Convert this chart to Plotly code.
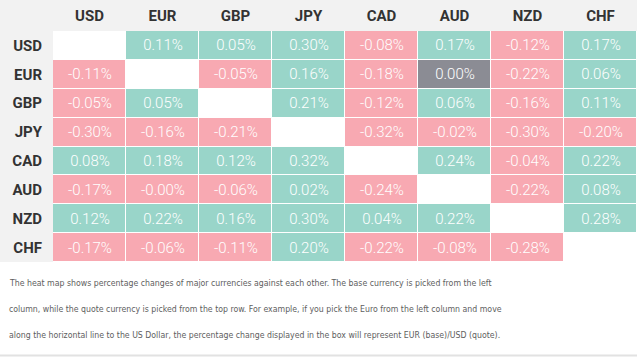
import plotly.graph_objects as go

currencies = ["USD", "EUR", "GBP", "JPY", "CAD", "AUD", "NZD", "CHF"]

# rows = base currency, columns = quote currency; None = diagonal
usd = [None, 0.11, 0.05, 0.30, -0.08, 0.17, -0.12, 0.17]
eur = [-0.11, None, -0.05, 0.16, -0.18, 0.00, -0.22, 0.06]
gbp = [-0.05, 0.05, None, 0.21, -0.12, 0.06, -0.16, 0.11]
jpy = [-0.30, -0.16, -0.21, None, -0.32, -0.02, -0.30, -0.20]
cad = [0.08, 0.18, 0.12, 0.32, None, 0.24, -0.04, 0.22]
aud = [-0.17, -0.004, -0.06, 0.02, -0.24, None, -0.22, 0.08]
nzd = [0.12, 0.22, 0.16, 0.30, 0.04, 0.22, None, 0.28]
chf = [-0.17, -0.06, -0.11, 0.20, -0.22, -0.08, -0.28, None]

rows = [usd, eur, gbp, jpy, cad, aud, nzd, chf]

note_lines = [
    "The heat map shows percentage changes of major currencies against each other. The base currency is picked from the left",
    "column, while the quote currency is picked from the top row. For example, if you pick the Euro from the left column and move",
    "along the horizontal line to the US Dollar, the percentage change displayed in the box will represent EUR (base)/USD (quote).",
]

PINK = "#f8a9b2"
GREY = "#8b8c94"
GREEN = "#99d5c9"
BG = "#f2f2f2"


def code(v):
    if v is None:
        return None
    if v > 0:
        return 2
    if v < 0:
        return 0
    return 1


z = [[code(v) for v in r] for r in rows]
text = [["" if v is None else f"{v:.2f}%" for v in r] for r in rows]

fig = go.Figure(
    go.Heatmap(
        z=z,
        x=currencies,
        y=currencies,
        text=text,
        texttemplate="%{text}",
        textfont=dict(family="Roboto", size=15, color="white", weight=300),
        colorscale=[[0, PINK], [0.333, PINK], [0.333, GREY], [0.667, GREY], [0.667, GREEN], [1, GREEN]],
        zmin=0,
        zmax=2,
        showscale=False,
        xgap=1,
        ygap=1,
        hoverinfo="skip",
    )
)

W, H = 637, 357
L, T, B = 53, 31, 95
ph = H - T - B
pw = W - L

shapes = [
    dict(type="rect", xref="paper", yref="paper", x0=-L / pw, x1=1.0, y0=-B / ph, y1=0,
         fillcolor="white", line_width=0, layer="below"),
    dict(type="line", xref="paper", yref="paper", x0=-L / pw, x1=1.0,
         y0=-(B - 1.5) / ph, y1=-(B - 1.5) / ph, line=dict(color="#e2e2e2", width=2)),
]

annotations = []
for i, line in enumerate(note_lines):
    y_px = 283 + i * 25.8
    annotations.append(dict(
        text=line, xref="paper", yref="paper", x=(7 - L) / pw, y=(H - B - y_px) / ph,
        xanchor="left", yanchor="middle", showarrow=False,
        font=dict(family="Liberation Sans Narrow, DejaVu Sans Condensed, Roboto", size=8.7, color="#5e5e5e"),
    ))

fig.update_layout(
    width=W, height=H,
    margin=dict(l=L, r=0, t=T, b=B, pad=0),
    paper_bgcolor=BG,
    plot_bgcolor="white",
    shapes=shapes,
    annotations=annotations,
    xaxis=dict(side="top", showgrid=False, zeroline=False, ticks="", ticklabelstandoff=6,
               tickfont=dict(family="Roboto", size=15, color="#333333", weight=700), fixedrange=True),
    yaxis=dict(autorange="reversed", showgrid=False, zeroline=False, ticks="", ticklabelstandoff=10,
               tickfont=dict(family="Roboto", size=15, color="#333333", weight=700), fixedrange=True),
)

fig.write_html("out.html", config={"displayModeBar": False},
               post_script="document.body.style.margin='0';")
